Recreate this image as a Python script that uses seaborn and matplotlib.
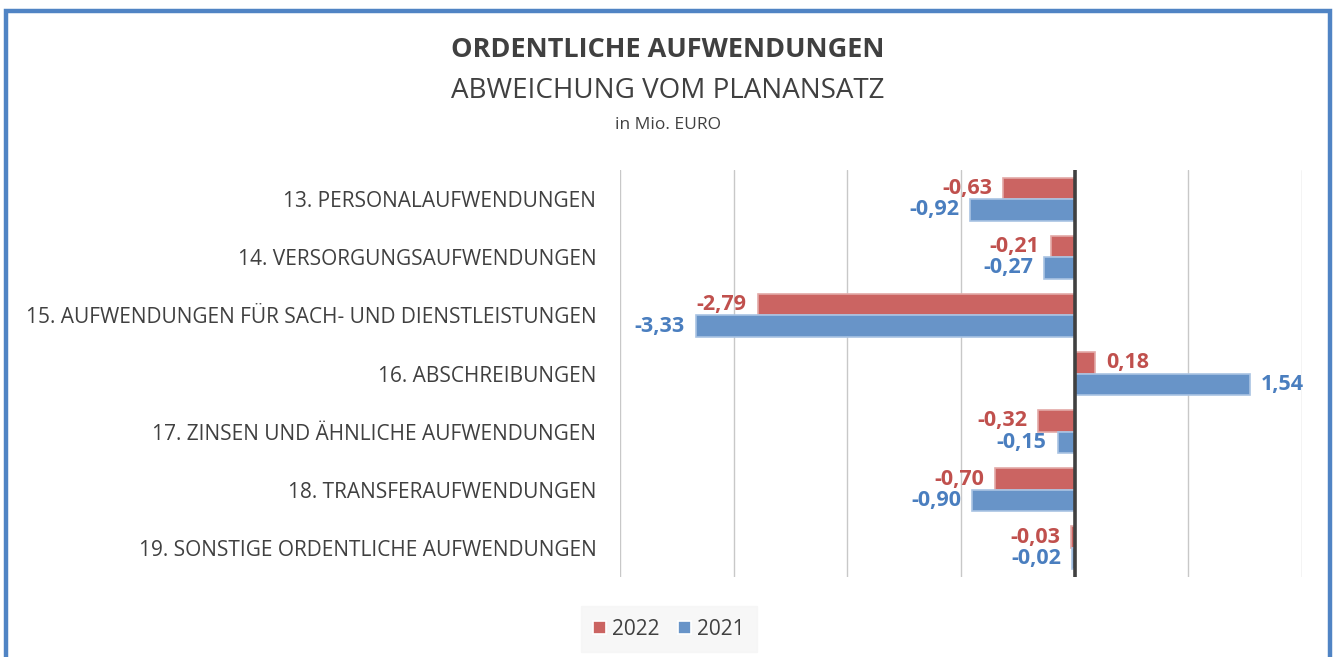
import numpy as np
import pandas as pd
import seaborn as sns
import matplotlib.pyplot as plt
from matplotlib.patches import Rectangle

# Data (Mio. EURO)
categories = [
    "13. PERSONALAUFWENDUNGEN",
    "14. VERSORGUNGSAUFWENDUNGEN",
    "15. AUFWENDUNGEN FÜR SACH- UND DIENSTLEISTUNGEN",
    "16. ABSCHREIBUNGEN",
    "17. ZINSEN UND ÄHNLICHE AUFWENDUNGEN",
    "18. TRANSFERAUFWENDUNGEN",
    "19. SONSTIGE ORDENTLICHE AUFWENDUNGEN",
]
years = ["2022", "2021"]
values_2022 = [-0.63, -0.21, -2.79, 0.18, -0.32, -0.70, -0.03]
values_2021 = [-0.92, -0.27, -3.33, 1.54, -0.15, -0.90, -0.02]

bar_colors = {"2022": "#CB6462", "2021": "#6894C8"}
edge_colors = {"2022": "#E3A9A7", "2021": "#A9C3E3"}
label_colors = {"2022": "#C0504D", "2021": "#4A7EBF"}

df = pd.DataFrame({
    "Kategorie": categories * 2,
    "Wert": values_2022 + values_2021,
    "Jahr": [years[0]] * len(categories) + [years[1]] * len(categories),
})

sns.set_theme(style="white")
plt.rcParams["font.family"] = ["Open Sans", "DejaVu Sans"]

fig = plt.figure(figsize=(13.37, 6.57), dpi=100)
ax = fig.add_axes([0.4637, 0.1218, 0.5101, 0.6194])

sns.barplot(data=df, y="Kategorie", x="Wert", hue="Jahr", hue_order=years,
            order=categories, orient="h", palette=bar_colors, saturation=1,
            width=0.74, linewidth=1.2, ax=ax, legend=True)

for cont, yr in zip(ax.containers, years):
    for patch in cont:
        patch.set_edgecolor(edge_colors[yr])
    labels = [f"{v:.2f}".replace(".", ",") for v in cont.datavalues]
    ax.bar_label(cont, labels=labels, padding=8, color=label_colors[yr],
                 fontsize=15.5, fontweight="bold")

ax.set_xlim(-4, 2)
ax.set_xticks(np.arange(-4, 3, 1))
ax.set_xticklabels([])
ax.tick_params(axis="x", length=0)
ax.tick_params(axis="y", length=0, pad=17, labelsize=15, labelcolor="#404040")
ax.grid(axis="x", color="#C8C8C8", linewidth=1)
ax.set_axisbelow(True)
ax.axvline(0, color="#404040", linewidth=2.6, zorder=5)
ax.set_xlabel("")
ax.set_ylabel("")
for s in ax.spines.values():
    s.set_visible(False)

leg = ax.legend(loc="center", bbox_to_anchor=(0.5002, 0.0426), bbox_transform=fig.transFigure,
                ncol=2, frameon=True, fontsize=15, handlelength=0.6, handleheight=0.6,
                handletextpad=0.3, columnspacing=0.9, borderpad=0.6, fancybox=False)
leg.get_frame().set_facecolor("#F5F5F5")
leg.get_frame().set_edgecolor("#F5F5F5")
for t in leg.get_texts():
    t.set_color("#404040")

fig.text(0.4996, 0.924, "ORDENTLICHE AUFWENDUNGEN", ha="center", va="center",
         fontsize=19.5, fontweight="bold", color="#404040")
fig.text(0.4996, 0.862, "ABWEICHUNG VOM PLANANSATZ", ha="center", va="center",
         fontsize=20, color="#404040")
fig.text(0.4996, 0.810, "in Mio. EURO", ha="center", va="center",
         fontsize=12.5, color="#404040")

# blue frame around the chart area
fig.patches.append(Rectangle((0.0045, -0.05), 0.9905, 1.033, transform=fig.transFigure,
                             fill=False, edgecolor="#5084C4", linewidth=3.2))

fig.savefig("out.png", dpi=100)
